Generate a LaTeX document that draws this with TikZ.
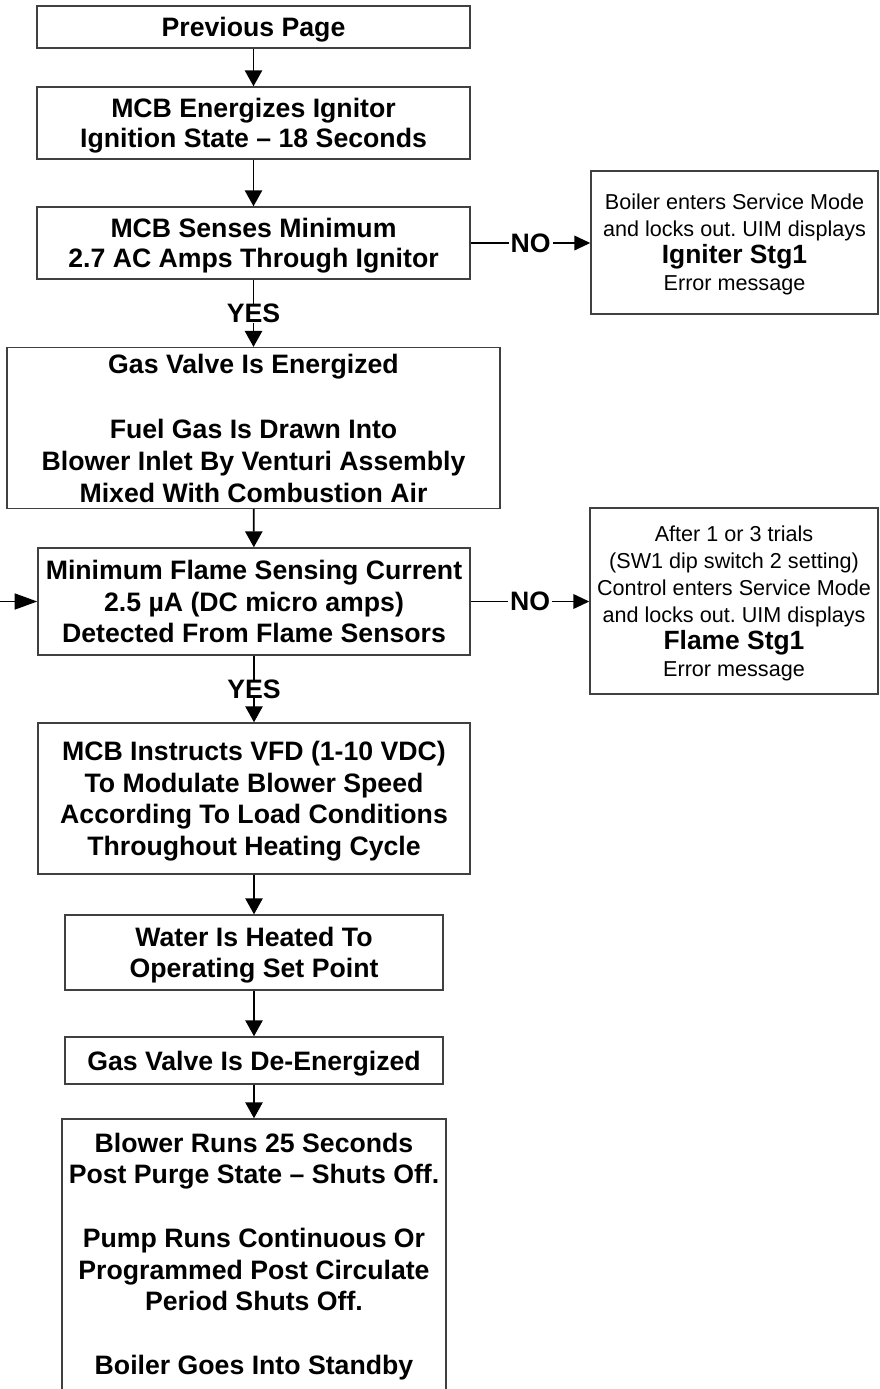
\documentclass[tikz,border=0pt]{standalone}
\usepackage{fontspec}
\setmainfont{Liberation Sans}
\usetikzlibrary{arrows.meta}
\newcommand\bT{\rule{0pt}{19.2pt}}
\newcommand\bB{\rule[-4.8pt]{0pt}{4.8pt}}
\newcommand\rT{\rule{0pt}{15.8pt}}
\newcommand\rB{\rule[-4.2pt]{0pt}{4.2pt}}
\begin{document}
\frenchspacing
\begin{tikzpicture}[x=0.75pt,y=-0.75pt,
 box/.style={draw=black!75, line width=1.1pt, inner sep=0pt, align=center,
   font=\bfseries\fontsize{20}{23.8}\selectfont},
 box2/.style={box, font=\bfseries\fontsize{20}{22.6}\selectfont},
 ebox/.style={draw=black!75, line width=1.1pt, inner sep=0pt, align=center,
   font=\fontsize{16.2}{20.3}\selectfont\frenchspacing},
 arr/.style={line width=1.3pt, -{Triangle[width=13pt,length=12pt]}},
 sarr/.style={line width=1.3pt, -{Triangle[width=11pt,length=12pt]}},
 larr/.style={line width=1.3pt, -{Triangle[width=12pt,length=17pt]}},
 lbl/.style={fill=white, inner xsep=1.5pt, inner ysep=0pt, font=\bfseries\fontsize{20}{23.8}\selectfont}]
\useasboundingbox (0,0) rectangle (879,1389);
\clip (0,0) rectangle (879,1389);

\node[box, minimum width=433*0.75pt, minimum height=42*0.75pt] (prev) at (253.5,27) {\bT Previous Page\bB};
\node[box2, minimum width=433*0.75pt, minimum height=72*0.75pt] (ign) at (253.5,123) {\bT MCB Energizes Ignitor\\Ignition State – 18 Seconds\bB};
\node[box2, minimum width=433*0.75pt, minimum height=72*0.75pt] (sense) at (253.5,243) {\bT MCB Senses Minimum\\2.7 AC Amps Through Ignitor\bB};
\node[ebox, minimum width=287*0.75pt, minimum height=143*0.75pt] (err1) at (734.5,242.5) {\rT Boiler enters Service Mode\\and locks out. UIM displays\\{\bfseries\fontsize{19.8}{20.3}\selectfont Igniter Stg1}\\Error message\rB};
\node[box, font=\bfseries\fontsize{20}{24}\selectfont, minimum width=493*0.75pt, minimum height=160*0.75pt] (gas) at (253.5,428) {\bT Gas Valve Is Energized\\[24.6pt]Fuel Gas Is Drawn Into\\Blower Inlet By Venturi Assembly\\Mixed With Combustion Air\bB};
\node[box, minimum width=432*0.75pt, minimum height=107*0.75pt] (flame) at (254,601.5) {\bT Minimum Flame Sensing Current\\2.5 µA (DC micro amps)\\Detected From Flame Sensors\bB};
\node[ebox, minimum width=288*0.75pt, minimum height=186*0.75pt] (err2) at (734,601) {\rT After 1 or 3 trials\\(SW1 dip switch 2 setting)\\Control enters Service Mode\\and locks out. UIM displays\\{\bfseries\fontsize{19.8}{20.3}\selectfont Flame Stg1}\\Error message\rB};
\node[box, minimum width=432*0.75pt, minimum height=151*0.75pt] (vfd) at (254,798.5) {\bT MCB Instructs VFD (1-10 VDC)\\To Modulate Blower Speed\\According To Load Conditions\\Throughout Heating Cycle\bB};
\node[box, minimum width=378*0.75pt, minimum height=75*0.75pt] (water) at (254,952.5) {\bT Water Is Heated To\\Operating Set Point\bB};
\node[box, minimum width=378*0.75pt, minimum height=47*0.75pt] (deen) at (254,1060.5) {\bT Gas Valve Is De-Energized\bB};
\node[box, minimum width=384*0.75pt, minimum height=272*0.75pt] (blow) at (254,1255) {\rule{0pt}{17pt}Blower Runs 25 Seconds\\Post Purge State – Shuts Off.\\[23.8pt]Pump Runs Continuous Or\\Programmed Post Circulate\\Period Shuts Off.\\[23.8pt]Boiler Goes Into Standby\bB};

\coordinate (lin) at (0,601.5);

\draw[arr] (prev) -- (ign);
\draw[arr] (ign) -- (sense);
\draw[arr] (sense) -- node[lbl] {YES} (gas);
\draw[sarr] (sense.east) -- node[lbl] {NO} (err1.west |- sense.east);
\draw[arr] (gas) -- (flame);
\draw[larr] (lin) -- (flame.west);
\draw[sarr] (flame.east) -- node[lbl] {NO} (err2.west |- flame.east);
\draw[arr] (flame) -- node[lbl] {YES} (vfd);
\draw[arr] (vfd) -- (water);
\draw[arr] (water) -- (deen);
\draw[arr] (deen) -- (blow);
\end{tikzpicture}
\end{document}
